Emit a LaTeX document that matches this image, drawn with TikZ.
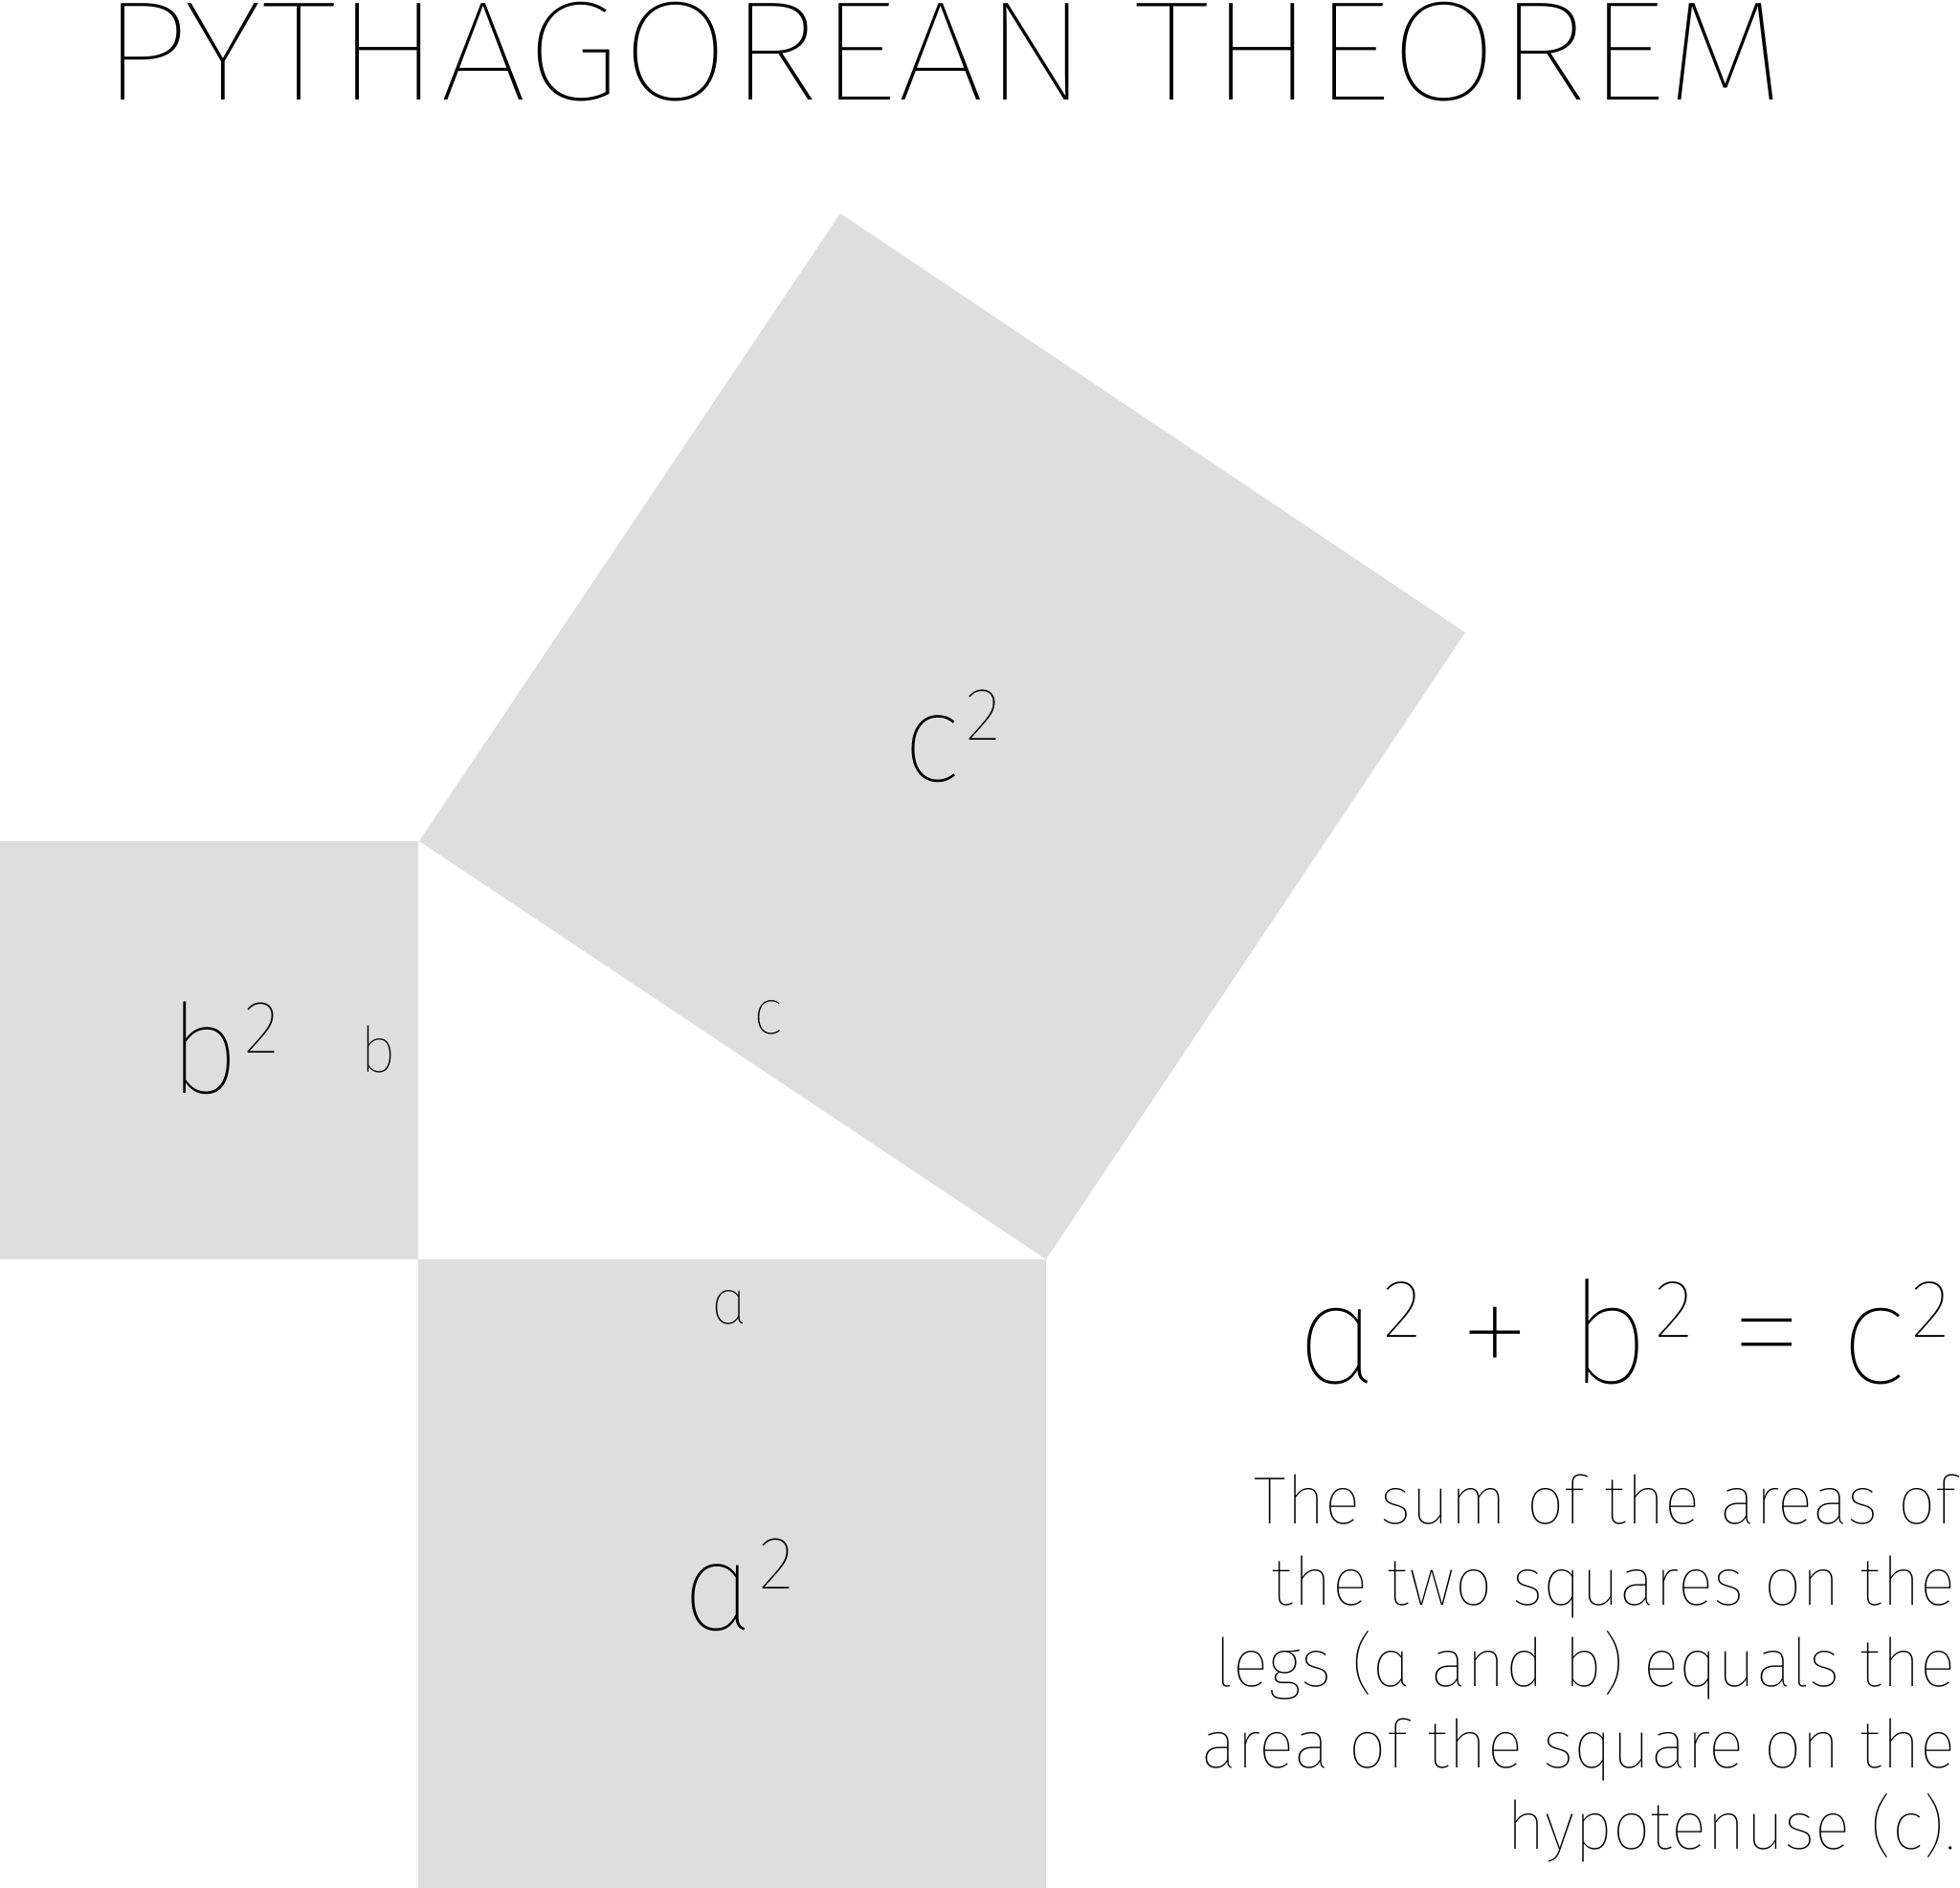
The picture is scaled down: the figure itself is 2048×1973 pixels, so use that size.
\documentclass[tikz,border=0pt]{standalone}
\usepackage{fontspec}
\IfFontExistsTF{Fira Sans Thin}{\setmainfont{Fira Sans Thin}}{%
  \IfFontExistsTF{Fira Sans ExtraLight}{\setmainfont{Fira Sans ExtraLight}}{%
    \IfFontExistsTF{Fira Sans Light}{\setmainfont{Fira Sans Light}}{\setmainfont{Fira Sans}}}}
\definecolor{sqgray}{HTML}{DEDEDE}
\newcommand{\psq}[5]{{\fontsize{#2}{#2}\selectfont #1\kern#5pt\raisebox{#4pt}{\fontsize{#3}{#3}\selectfont 2}}}
\begin{document}
\begin{tikzpicture}[x=1pt,y=-1pt]
\tikzset{
  sq/.style={fill=sqgray,draw=none},
  lbl/.style={inner sep=0pt,outer sep=0pt,anchor=base west},
  rlbl/.style={inner sep=0pt,outer sep=0pt,anchor=base east,font=\fontsize{70}{70}\selectfont},
  small/.style={font=\fontsize{66}{66}\selectfont}
}
\useasboundingbox (0,0) rectangle (2048,1973);
% squares
\fill[sq] (0,879) rectangle (437,1316);
\fill[sq] (437,1316) rectangle (1093,1973);
\fill[sq] (438,879) -- (878,223) -- (1531,661) -- (1093,1316) -- cycle;
% title
\node[lbl,font=\fontsize{148}{148}\selectfont] (title) at (106,104) {\scalebox{1.11}[1]{PYTHAGOREAN THEOREM}};
% square labels
\node[lbl] (csq) at (943,816) {\psq{c}{130}{78}{43}{6}};
\node[lbl] (bsq) at (176,1142) {\psq{b}{130}{78}{42}{6}};
\node[lbl] (asq) at (713,1703) {\psq{ɑ}{130}{78}{43}{6}};
% side labels
\node[lbl,small] (bside) at (376,1120) {b};
\node[lbl,small] (aside) at (743,1383) {ɑ};
\node[lbl,small] (cside) at (787,1080) {c};
% equation
\node[lbl] (eq) at (1355,1445) {\psq{ɑ}{148}{86}{48}{6}\hspace{38pt}{\fontsize{160}{160}\selectfont +}\hspace{38pt}\psq{b}{148}{86}{48}{6}\hspace{38pt}{\fontsize{160}{160}\selectfont =}\hspace{38pt}\psq{c}{148}{86}{48}{6}};
% paragraph
\node[rlbl] (p1) at (2044,1592) {The sum of the areas of};
\node[rlbl] (p2) at (2044,1677) {the two squares on the};
\node[rlbl] (p3) at (2044,1762) {legs (ɑ and b) equals the};
\node[rlbl] (p4) at (2044,1847) {area of the square on the};
\node[rlbl] (p5) at (2044,1932) {hypotenuse (c).};
\end{tikzpicture}
\end{document}
